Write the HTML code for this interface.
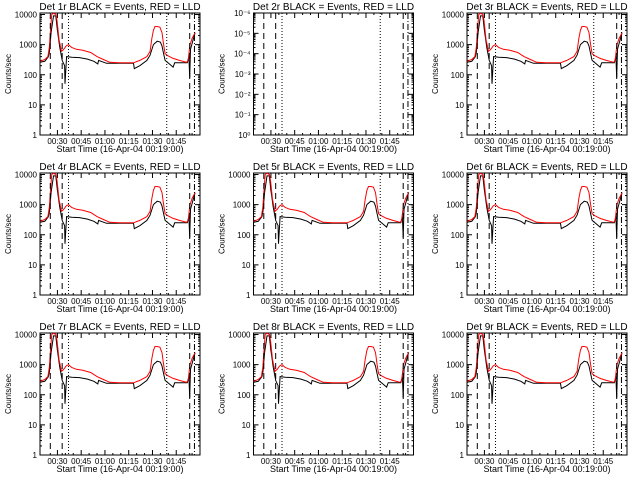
<!DOCTYPE html>
<html><head><meta charset="utf-8"><style>
html,body{margin:0;padding:0;background:#fff;}
svg{display:block;font-family:"Liberation Sans",sans-serif;}
</style></head><body>
<svg id="c" width="640" height="480" xmlns="http://www.w3.org/2000/svg"></svg>
<script>
// data (minutes since 00:19, counts/sec)
const redTimes = [0,3,5,5.9,6.6,7.4,8.5,10.1,10.8,12,13.6,15,16.5,18,20,23,27,32,36,40,44,50,59,63,67.5,69.5,70.5,71.6,72.6,74,75.7,77,78,79,81,84,88,92.6,93.5,94.7,96,97.9];
const redVals  = [280,320,400,800,3000,10000,11000,10000,6000,1500,600,700,900,1000,800,700,650,550,400,320,260,250,250,300,400,600,1500,3000,4000,4000,3800,2500,1000,500,420,350,300,260,300,1000,1600,2500];
const blackTimes = [0,3,5.3,6,7,8.5,10,11,12.5,14,15.5,15.8,16.8,20,25,30,34,36.5,37,42,50,59,59.5,63,67.5,69.5,71.6,74,76,77,78,79,82,84,85,90,93,94,94.5,95,97.9];
const blackVals  = [260,280,400,600,2500,9000,9000,3000,800,300,200,50,400,380,370,330,280,230,300,240,240,240,160,200,300,450,1000,1300,1200,900,500,300,220,180,250,250,250,400,80,700,2500];
const yTickVals = [1,10,100,1000,10000];
const yTickLabels = ["1","10","100","1000","10000"];
const y2TickLabels = ["10\u2070","10\u207B\u00B9","10\u207B\u00B2","10\u207B\u00B3","10\u207B\u2074","10\u207B\u2075","10\u207B\u2076"];
const xTickMins = [11,26,41,56,71,86];
const xTickLabels = ["00:30","00:45","01:00","01:15","01:30","01:45"];
const markerMins = [6.5,14,18,80,94.5,97.5];
const detNames = ["1r","2r","3r","4r","5r","6r","7r","8r","9r"];

const svg=document.getElementById('c');
const NS="http://www.w3.org/2000/svg";
function mk(tag,attrs,parent){const e=document.createElementNS(NS,tag);for(const k in attrs)e.setAttribute(k,attrs[k]);(parent||svg).appendChild(e);return e;}
const colX=[40,253.5,467], rowY=[13,173,333], W=160, H=122, TMAX=101;

detNames.forEach((d,i)=>{
  const ox=colX[i%3], oy=rowY[Math.floor(i/3)];
  const g=mk('g',{});
  
  
  const xs=t=>ox+t/TMAX*W;
  const ys=v=>oy+H-(Math.log10(v)/4.05)*H;
  const t=mk('text',{x:ox+W/2,y:oy-3,'text-anchor':'middle','font-size':'10'},g);
  t.textContent='Det '+d+' BLACK = Events, RED = LLD';
  
  
  const b=mk('rect',{x:ox,y:oy,width:W,height:H,fill:'none',stroke:'#000','stroke-width':1},g);
  
  
  const yl=mk('text',{x:0,y:0,'text-anchor':'middle','font-size':'8',transform:`translate(${ox-29},${oy+H/2}) rotate(-90)`},g);
  yl.textContent='Counts/sec';
  
  
  const xl=mk('text',{x:ox+W/2,y:oy+H+17,'text-anchor':'middle','font-size':'9'},g);
  xl.textContent='Start Time (16-Apr-04 00:19:00)';
  
  
  xTickMins.forEach((m,k)=>{
    const x=xs(m);
    mk('line',{x1:x,y1:oy+H,x2:x,y2:oy+H-5,stroke:'#000'},g);
    mk('line',{x1:x,y1:oy,x2:x,y2:oy+5,stroke:'#000'},g);
    const tl=mk('text',{x:x,y:oy+H+9,'text-anchor':'middle','font-size':'8'},g);
    tl.textContent=xTickLabels[k];
    
    
    for(let s=5;s<15;s+=5){const xm=xs(m+s);if(m+s<TMAX){mk('line',{x1:xm,y1:oy+H,x2:xm,y2:oy+H-2,stroke:'#000'},g);mk('line',{x1:xm,y1:oy,x2:xm,y2:oy+2,stroke:'#000'},g);}}
  });
  if(i===1){
    y2TickLabels.forEach((lab,k)=>{
      const y=oy+H-k*H/6;
      mk('line',{x1:ox,y1:y,x2:ox+5,y2:y,stroke:'#000'},g);
      mk('line',{x1:ox+W,y1:y,x2:ox+W-5,y2:y,stroke:'#000'},g);
      for(let m=2;m<10;m++){if(k<6){const ym=y-Math.log10(m)*H/6;mk('line',{x1:ox,y1:ym,x2:ox+2,y2:ym,stroke:'#000'},g);mk('line',{x1:ox+W,y1:ym,x2:ox+W-2,y2:ym,stroke:'#000'},g);}}
      const tl=mk('text',{x:ox-3,y:y+3,'text-anchor':'end','font-size':'8'},g);
      tl.textContent=lab;
      
      
    });
  } else {
    yTickVals.forEach((v,k)=>{
      const y=ys(v);
      mk('line',{x1:ox,y1:y,x2:ox+5,y2:y,stroke:'#000'},g);
      mk('line',{x1:ox+W,y1:y,x2:ox+W-5,y2:y,stroke:'#000'},g);
      if(k<4)for(let m=2;m<10;m++){const ym=ys(v*m);mk('line',{x1:ox,y1:ym,x2:ox+2,y2:ym,stroke:'#000'},g);mk('line',{x1:ox+W,y1:ym,x2:ox+W-2,y2:ym,stroke:'#000'},g);}
      const tl=mk('text',{x:ox-3,y:y+3,'text-anchor':'end','font-size':'8'},g);
      tl.textContent=yTickLabels[k];
      
      
    });
    const cl=v=>Math.min(Math.max(v,1),11000);
    const pr=redTimes.map((tm,k)=>xs(tm).toFixed(1)+','+ys(cl(redVals[k])).toFixed(1)).join(' ');
    const pb=blackTimes.map((tm,k)=>xs(tm).toFixed(1)+','+ys(cl(blackVals[k])).toFixed(1)).join(' ');
    const lb=mk('polyline',{points:pb,fill:'none',stroke:'#000','stroke-width':1},g);
    
    
    const lr=mk('polyline',{points:pr,fill:'none',stroke:'#f00','stroke-width':1},g);
    
    
  }
  const styles=['6,4','6,4','1,2','1,2','6,4','6,2,1,2'];
  markerMins.forEach((m,k)=>{
    const l=mk('line',{x1:xs(m),y1:oy,x2:xs(m),y2:oy+H,stroke:'#000','stroke-dasharray':styles[k]},g);
    
    
  });
});
</script>
</body></html>
